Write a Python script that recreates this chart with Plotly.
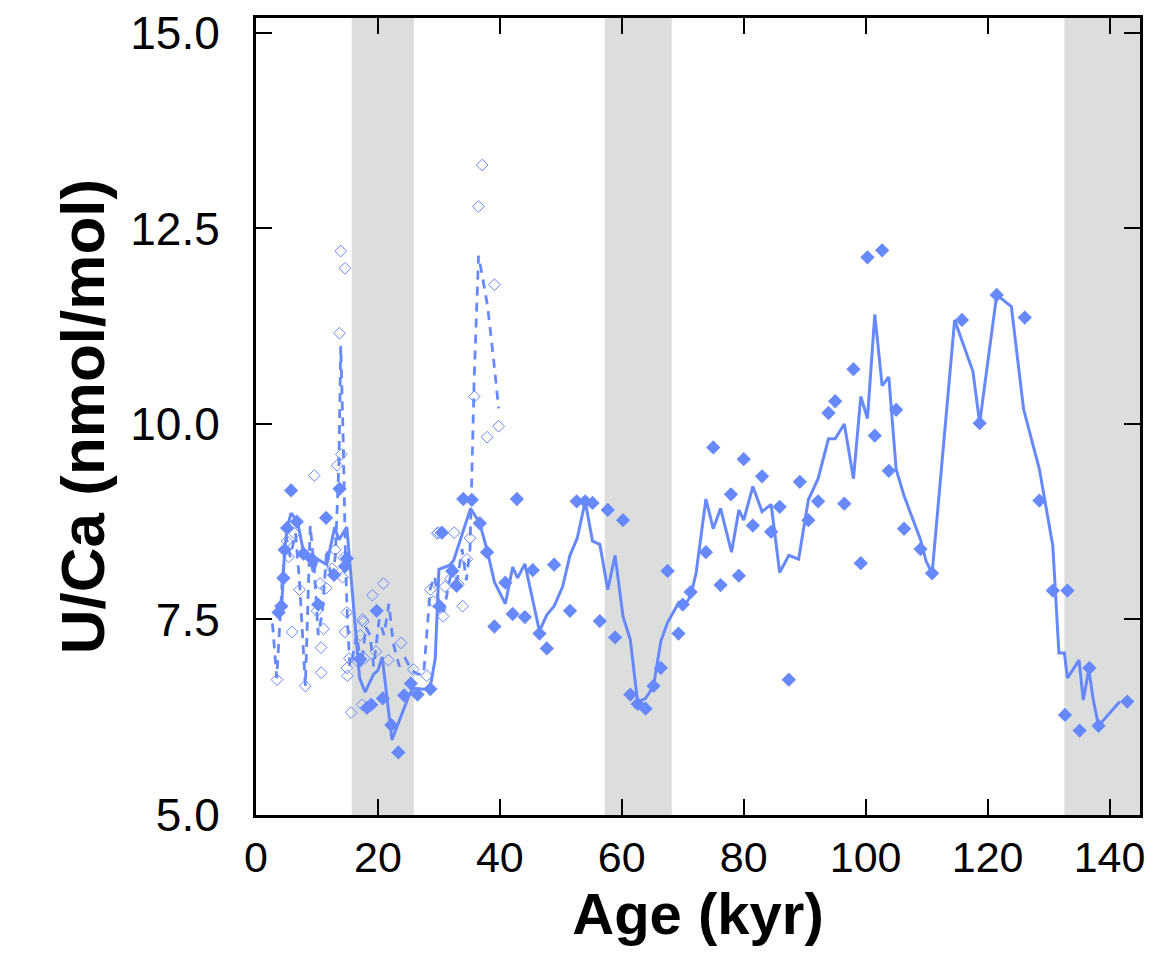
import plotly.graph_objects as go

# Solid line series (age kyr, U/Ca nmol/mol)
line_age = [3.7, 4.2, 4.7, 5.1, 5.75, 6.8, 7.8, 9.0, 9.4, 10.1, 11.6, 12.9, 13.6, 14.9,
            17.0, 17.9, 19.3, 20.0, 20.7, 22.3, 25.2, 25.9, 28.5, 29.4, 30.0, 31.7, 32.4,
            35.2, 36.7, 37.9, 39.1, 40.9, 42.1, 42.9, 44.1, 45.4, 46.5, 47.7, 48.9, 50.3,
            51.5, 52.7, 54.0, 55.2, 56.4, 57.7, 58.9, 60.2, 61.4, 62.6, 63.9, 65.2, 66.4,
            67.5, 69.3, 70.0, 71.3, 72.2, 73.8, 75.0, 76.2, 78.0, 79.2, 80.0, 81.5, 83.0,
            84.5, 85.9, 87.4, 89.0, 90.6, 92.2, 93.9, 95.0, 96.5, 98.0, 99.2, 100.3, 101.5,
            102.7, 103.8, 105.0, 106.3, 109.0, 109.9, 110.9, 114.6, 117.6, 118.7, 121.5,
            123.9, 125.9, 128.5, 130.7, 131.7, 132.6, 133.1, 135.0, 135.7, 136.6, 137.3,
            138.2, 141.7]
line_uca = [7.59, 7.65, 8.39, 8.67, 8.86, 8.76, 8.36, 8.23, 8.11, 8.27, 8.20, 8.68, 8.52, 8.68,
            6.75, 6.57, 6.80, 6.85, 7.02, 5.96, 6.55, 6.62, 6.60, 7.00, 8.14, 8.19, 8.25,
            8.92, 8.73, 8.39, 7.98, 7.70, 8.17, 8.03, 8.21, 7.75, 7.35, 7.56, 7.67, 7.92,
            8.32, 8.54, 9.01, 8.50, 8.46, 7.88, 8.32, 7.54, 7.24, 6.44, 6.49, 6.65, 7.22,
            7.46, 7.71, 7.64, 7.80, 8.10, 9.04, 8.66, 8.92, 8.36, 8.90, 8.77, 9.20, 8.88,
            8.97, 8.10, 8.32, 8.27, 9.03, 9.30, 9.81, 9.81, 10.00, 9.30, 10.35, 10.07, 11.40,
            10.49, 10.60, 9.42, 9.08, 8.52, 8.25, 8.09, 11.33, 10.67, 10.01, 11.65,
            11.50, 10.19, 9.42, 8.44, 7.07, 7.07, 6.75, 6.98, 6.47, 6.86, 6.49,
            6.14, 6.45]

# Filled diamonds
filled_age = [3.7, 4.15, 4.5, 4.7, 5.1, 5.75, 6.7, 7.8, 9.2, 10.2, 11.5, 12.8, 13.7, 14.6, 14.9,
              17.1, 18.2, 18.9, 19.8, 20.8, 22.2, 23.35, 24.3, 25.4, 26.5, 28.6, 30.1, 30.5,
              32.2, 32.9, 34.0, 35.4, 36.7, 37.9, 39.1, 40.9, 42.1, 42.8, 44.1, 45.4, 46.5,
              47.7, 48.9, 51.5, 52.6, 54.0, 55.2, 56.4, 57.7, 58.9, 60.2, 61.4, 62.6, 63.9,
              65.2, 66.4, 67.5, 69.3, 70.0, 71.3, 73.8, 75.0, 76.2, 77.9, 79.2, 80.0, 81.5,
              83.0, 84.5, 85.9, 87.4, 89.2, 90.6, 92.2, 93.9, 95.0, 96.5, 98.0, 99.2, 100.3,
              101.5, 102.7, 103.8, 105.0, 106.3, 109.0, 110.9, 115.8, 118.7, 121.5, 126.1,
              128.5, 130.7, 132.7, 133.1, 135.1, 136.7, 138.2, 142.9]
filled_uca = [7.59, 7.67, 8.03, 8.39, 8.67, 9.15, 8.75, 8.34, 8.27, 7.69, 8.80, 8.07, 9.17, 8.18, 8.28,
              6.99, 6.37, 6.41, 7.61, 6.49, 6.15, 5.80, 6.53, 6.68, 6.54, 6.61, 7.67, 8.61,
              8.12, 7.93, 9.04, 9.03, 8.73, 8.36, 7.41, 7.97, 7.57, 9.04, 7.53, 8.13, 7.32,
              7.13, 8.20, 7.61, 9.01, 9.01, 8.99, 7.48, 8.90, 7.27, 8.77, 6.54, 6.42, 6.36,
              6.65, 6.88, 8.12, 7.32, 7.69, 7.85, 8.36, 9.70, 7.94, 9.10, 8.06, 9.55, 8.70,
              9.33, 8.62, 8.94, 6.73, 9.26, 8.77, 9.01, 10.14, 10.29, 8.98, 10.70, 8.22, 12.13,
              9.85, 12.22, 9.40, 10.18, 8.66, 8.40, 8.09, 11.33, 10.01, 11.65, 11.36,
              9.02, 7.87, 6.28, 7.87, 6.08, 6.88, 6.14, 6.45]

# Dashed line series
dash_age = [2.7, 3.4, 4.3, 5.0, 5.6, 6.5, 7.2, 8.1, 8.9, 9.6, 10.2, 10.9, 11.6, 12.4, 13.0,
            13.6, 13.9, 14.3, 14.7, 15.0, 15.4, 15.8, 16.5, 17.3, 18.0, 18.7, 19.3, 20.2,
            21.0, 21.8, 22.5, 23.5, 24.5, 25.5, 26.5, 27.5, 28.6, 29.3, 30.0, 30.8, 31.5,
            32.3, 33.0, 33.8, 34.5, 35.1, 35.8, 36.5, 37.1, 38.0, 39.0, 39.8]
dash_uca = [7.45, 6.75, 8.00, 8.55, 8.30, 8.60, 7.90, 6.65, 8.70, 8.10, 7.30, 7.60, 8.40, 8.00, 8.30,
            9.50, 11.00, 9.80, 8.20, 7.50, 6.90, 7.00, 7.30, 6.90, 7.40, 7.30, 6.90, 7.50,
            7.30, 7.70, 7.20, 6.90, 7.00, 6.85, 6.80, 6.80, 7.90, 8.05, 7.70, 7.60, 7.90,
            8.20, 8.00, 8.40, 8.00, 8.40, 10.60, 12.15, 11.90, 11.50, 10.80, 10.20]

# Open diamonds
open_age = [3.44, 5.08, 5.35, 5.9, 6.33, 7.15, 8.08, 9.56, 10.0, 10.5, 10.66, 10.7, 11.08, 11.5,
            12.5, 13.0, 13.3, 13.7, 13.9, 13.99, 14.2, 14.4, 14.6, 14.6, 14.9, 14.9, 15.0,
            15.3, 15.6, 16.6, 17.1, 17.4, 17.5, 17.6, 17.8, 19.1, 19.7, 20.9, 21.7, 23.8,
            25.8, 28.0, 28.6, 29.1, 29.7, 29.9, 30.7, 31.0, 31.9, 32.5, 33.2, 33.9, 34.6,
            35.1, 35.8, 36.5, 37.1, 37.9, 39.1, 39.8]
open_uca = [6.73, 8.50, 8.30, 7.34, 8.60, 7.88, 6.65, 9.34, 7.61, 7.96, 7.14, 6.82, 7.38, 7.90,
            8.15, 8.39, 9.47, 11.16, 12.21, 9.61, 8.04, 8.29, 11.99, 7.34, 7.59, 6.88, 6.78,
            7.00, 6.31, 6.97, 7.30, 6.41, 7.50, 7.47, 7.00, 7.81, 7.09, 7.96, 6.98, 7.20,
            6.86, 6.78, 7.88, 7.73, 8.60, 8.61, 7.54, 7.92, 8.02, 8.61, 7.95, 7.67, 8.27,
            8.54, 10.35, 12.78, 13.31, 9.83, 11.78, 9.97]

# Shaded intervals (kyr)
band_start = [15.7, 57.2, 132.6]
band_end = [25.9, 68.2, 145.0]

x_ticks = [0, 20, 40, 60, 80, 100, 120, 140]
y_ticks = [5.0, 7.5, 10.0, 12.5, 15.0]

BLUE = "#6689FF"

fig = go.Figure()

fig.add_trace(go.Scatter(x=dash_age, y=dash_uca, mode="lines",
                         line=dict(color=BLUE, width=2.8, dash="9px,7px"),
                         showlegend=False, hoverinfo="skip"))
fig.add_trace(go.Scatter(x=open_age, y=open_uca, mode="markers",
                         marker=dict(symbol="diamond-open", size=9, color=BLUE,
                                     line=dict(width=1, color=BLUE)),
                         showlegend=False))
fig.add_trace(go.Scatter(x=line_age, y=line_uca, mode="lines",
                         line=dict(color=BLUE, width=3),
                         showlegend=False))
fig.add_trace(go.Scatter(x=filled_age, y=filled_uca, mode="markers",
                         marker=dict(symbol="diamond", size=11, color=BLUE),
                         showlegend=False))

for s, e in zip(band_start, band_end):
    fig.add_shape(type="rect", xref="x", yref="paper", x0=s, x1=e, y0=0, y1=1,
                  fillcolor="#DCDEDD", line=dict(width=0), layer="below")

fig.update_layout(
    width=1145, height=949,
    margin=dict(l=248, r=13, t=10, b=142, autoexpand=False),
    plot_bgcolor="white", paper_bgcolor="white",
    font=dict(family="Liberation Sans, Arial, sans-serif", color="black"),
)

fig.update_xaxes(
    range=[0, 145], tickvals=x_ticks, ticktext=[str(v) for v in x_ticks],
    ticks="inside", ticklen=16, tickwidth=2, tickcolor="black",
    showline=True, linewidth=3, linecolor="black", mirror="ticks",
    showgrid=False, zeroline=False, automargin=False,
    tickfont=dict(family="Liberation Sans, Arial", size=43),
    ticklabelstandoff=2, ticklabeloverflow="allow",
    title=dict(text="<b>Age (kyr)</b>", standoff=0,
               font=dict(family="Liberation Sans, Arial", size=58)),
)
fig.update_yaxes(
    range=[5, 15.19], tickvals=y_ticks, ticktext=[f"{v:.1f}" for v in y_ticks],
    ticks="inside", ticklen=16, tickwidth=2, tickcolor="black",
    showline=True, linewidth=3, linecolor="black", mirror="ticks",
    showgrid=False, zeroline=False, automargin=False,
    tickfont=dict(family="Liberation Sans, Arial", size=46),
    ticklabelstandoff=24, ticklabeloverflow="allow",
    title=dict(text="<b>U/Ca (nmol/mol)</b>", standoff=6,
               font=dict(family="Liberation Sans, Arial", size=62)),
)

fig.write_html("out.html")
